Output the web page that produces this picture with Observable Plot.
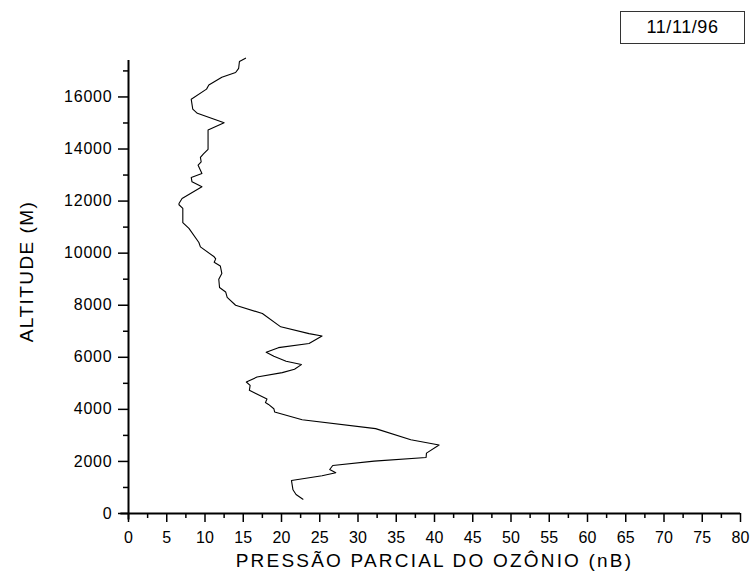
<!DOCTYPE html>
<html>
<head>
<meta charset="utf-8">
<script src="https://cdn.jsdelivr.net/npm/d3@7"></script>
<script src="https://cdn.jsdelivr.net/npm/@observablehq/plot@0.6"></script>
<style>
  body { margin: 0; background: #fff; }
  #wrap { position: relative; width: 751px; height: 579px; font-family: "Liberation Sans", Arial, sans-serif; }
  #date { position: absolute; left: 620px; top: 11px; width: 123px; height: 31px; border: 1px solid #333;
          font-size: 18px; line-height: 31px; text-align: center; letter-spacing: 0.6px; background: #fff; }
</style>
</head>
<body>
<div id="wrap"><div id="date">11/11/96</div></div>
<script>
const altitude = [550, 730, 910, 1270, 1450, 1525, 1565, 1690, 1845, 2010, 2150, 2320, 2630, 2830, 3260, 3600,
  3900, 4025, 4190, 4260, 4400, 4730, 4920, 5050, 5240, 5410, 5540, 5720, 5850, 6040, 6190, 6370, 6530, 6820,
  6910, 7170, 7680, 8000, 8300, 8510, 8680, 9000, 9220, 9510, 9650, 9780, 9860, 10240, 10410, 10950, 11170,
  11720, 11860, 11910, 12100, 12550, 12740, 12910, 13060, 13380, 13510, 13680, 13810, 13990, 14730, 15010,
  15370, 15530, 15910, 16300, 16460, 16760, 16940, 17100, 17360, 17490];
const ozone = [22.8, 21.9, 21.5, 21.3, 25.3, 26.5, 27.1, 26.3, 26.7, 32.1, 38.9, 38.95, 40.6, 36.9, 32.3, 22.7,
  19.1, 19.0, 18.3, 17.9, 18.1, 15.8, 15.9, 15.4, 16.8, 20.1, 21.7, 22.6, 20.6, 19.0, 18.0, 19.6, 23.6, 25.3,
  23.6, 19.9, 17.5, 14.0, 12.9, 12.7, 11.9, 11.8, 12.2, 12.0, 11.2, 11.4, 11.2, 9.4, 9.2, 7.9, 7.1,
  7.1, 6.6, 6.6, 7.0, 9.6, 8.3, 8.2, 9.6, 9.1, 9.5, 9.4, 9.8, 10.4, 10.4, 12.5,
  9.0, 8.4, 8.2, 10.2, 10.5, 12.2, 14.0, 14.4, 14.5, 15.3];
const xTicks = d3.range(0, 81, 5);
const xMinor = d3.range(2.5, 80, 5);
const yTicks = d3.range(0, 17000, 2000);
const yMinor = d3.range(1000, 17400, 2000);
const xTitle = "PRESSÃO PARCIAL DO OZÔNIO (nB)";
const yTitle = "ALTITUDE (M)";

const data = altitude.map((a, i) => ({alt: a, o3: ozone[i]}));

const chart = Plot.plot({
  width: 751,
  height: 579,
  marginLeft: 128,
  marginRight: 11,
  marginTop: 60,
  marginBottom: 66,
  style: {fontFamily: "'Liberation Sans', Arial, sans-serif", fontSize: "16px", color: "#000", background: "transparent"},
  x: {domain: [0, 80]},
  y: {domain: [0, 17400]},
  marks: [
    Plot.axisX({ticks: xTicks, tickSize: 9, tickPadding: 9, tickFormat: d => String(d), label: null, strokeWidth: 1.5, fontSize: 16}),
    Plot.axisX({ticks: xMinor, tickSize: 5, tickFormat: () => "", label: null, strokeWidth: 1.5}),
    Plot.axisY({ticks: yTicks, tickSize: 10, tickPadding: 6, tickFormat: d => String(d), label: null, strokeWidth: 1.5, fontSize: 16}),
    Plot.axisY({ticks: yMinor, tickSize: 5, tickFormat: () => "", label: null, strokeWidth: 1.5}),
    Plot.ruleY([0], {x1: -1, x2: 80, stroke: "#000", strokeWidth: 2}),
    Plot.ruleX([0], {y1: -250, y2: 17400, stroke: "#000", strokeWidth: 2}),
    Plot.line(data, {x: "o3", y: "alt", stroke: "#000", strokeWidth: 1.1}),
    Plot.text([yTitle], {frameAnchor: "left", textAnchor: "middle", dx: -102, dy: -15.5, rotate: -90, fontSize: 19, fill: "#000"}),
    Plot.text([xTitle], {frameAnchor: "bottom", dy: 53, fontSize: 19, fill: "#000"})
  ]
});
const texts = d3.select(chart).selectAll('g[aria-label="text"] text');
texts.filter(function() { return this.textContent === yTitle; }).style("letter-spacing", "1.45px");
texts.filter(function() { return this.textContent === xTitle; }).style("letter-spacing", "2.2px");
d3.select(chart).selectAll('g[aria-label="y-axis tick label"] text').style("letter-spacing", "0.8px");
document.getElementById("wrap").prepend(chart);
chart.style.position = "absolute";
chart.style.left = "0";
chart.style.top = "0";
</script>
</body>
</html>
